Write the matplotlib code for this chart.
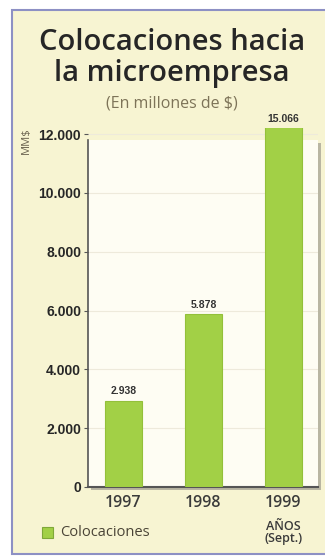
import matplotlib.pyplot as plt
from matplotlib.patches import Rectangle
import matplotlib.ticker as mticker

# datos
anios = ['1997', '1998', '1999']
nota_eje = 'AÑOS\n(Sept.)'
valores = [2938, 5878, 15066]
etiquetas = ['2.938', '5.878', '15.066']
yticks = [0, 2000, 4000, 6000, 8000, 10000, 12000]

W, H = 325, 559
fig = plt.figure(figsize=(W / 100, H / 100), dpi=100)
fig.patch.set_facecolor('white')

def fx(x):
    return x / W

def fy(y):
    return 1 - y / H

# panel crema con borde azulado
fig.patches.append(Rectangle((fx(12), fy(554)), fx(330) - fx(12), fy(10) - fy(554),
                             transform=fig.transFigure, facecolor='#f7f4d2',
                             edgecolor='#8d90c4', linewidth=1.5, zorder=0))
# sombra y fondo del area del grafico
fig.patches.append(Rectangle((fx(91), fy(490)), fx(321) - fx(91), fy(143) - fy(490),
                             transform=fig.transFigure, facecolor='#b9b6a2',
                             edgecolor='none', zorder=1))
fig.patches.append(Rectangle((fx(88), fy(487)), fx(318) - fx(88), fy(140) - fy(487),
                             transform=fig.transFigure, facecolor='#fefdf3',
                             edgecolor='none', zorder=2))

# titulos
fig.text(0.53, fy(42), 'Colocaciones hacia', ha='center', va='center',
         fontsize=21, color='#262626', family='Open Sans', fontweight='semibold')
fig.text(0.53, fy(73), 'la microempresa', ha='center', va='center',
         fontsize=21, color='#262626', family='Open Sans', fontweight='semibold')
fig.text(0.53, fy(103), '(En millones de $)', ha='center', va='center',
         fontsize=11.5, color='#7d7358', family='Open Sans', fontweight='medium')

top = 12000 * (487 - 128) / (487 - 134)
ax = fig.add_axes([fx(88), fy(487), fx(318) - fx(88), fy(128) - fy(487)])
ax.set_facecolor('none')
ax.set_zorder(3)

x = range(len(anios))
ax.bar(x, valores, width=0.46, color='#a2d046', edgecolor='#93c03a', linewidth=0.8, zorder=3)
ax.set_xlim(-0.44, 2.43)
ax.set_ylim(0, top)

for i, (v, t) in enumerate(zip(valores, etiquetas)):
    ax.annotate(t, (i, min(v, top)), xytext=(0, 3), textcoords='offset points',
                ha='center', va='bottom', fontsize=7.5, fontweight='bold',
                color='#333333', family='Liberation Sans',
                annotation_clip=False)

ax.set_yticks(yticks)
ax.yaxis.set_major_formatter(mticker.FuncFormatter(lambda v, p: f'{int(v):,}'.replace(',', '.')))
for lbl in ax.get_yticklabels():
    lbl.set_family('Liberation Sans')
    lbl.set_fontweight('bold')
    lbl.set_fontsize(10)
    lbl.set_color('#262626')
ax.tick_params(axis='y', length=3, width=0.8, color='#555555', pad=2)
ax.yaxis.grid(True, color='#eeeadb', linewidth=0.8)
ax.set_axisbelow(True)

ax.set_xticks(list(x))
ax.set_xticklabels(anios, fontsize=11.5, color='#3a3a3a', family='Open Sans',
                   fontweight='semibold')
ax.tick_params(axis='x', length=0, pad=6)
ax.annotate(nota_eje, (2, 0), xytext=(0, -24), textcoords='offset points',
            ha='center', va='top', fontsize=9, color='#3a3a3a', family='Open Sans',
            fontweight='semibold', linespacing=0.9, annotation_clip=False)

for s in ['top', 'right']:
    ax.spines[s].set_visible(False)
ax.spines['left'].set_bounds(0, 12000 * (487 - 140) / (487 - 134))
ax.spines['left'].set_color('#555555')
ax.spines['bottom'].set_color('#555555')
ax.spines['left'].set_linewidth(1.2)
ax.spines['bottom'].set_linewidth(1.5)

fig.text(fx(26), fy(141), 'MM$', rotation=90, ha='center', va='center',
         fontsize=8, color='#6b6350', family='Open Sans')

# leyenda
fig.patches.append(Rectangle((fx(42), fy(538)), fx(11), fy(527) - fy(538),
                             transform=fig.transFigure, facecolor='#a2d046',
                             edgecolor='#7fa838', linewidth=0.8, zorder=4))
fig.text(fx(60), fy(533), 'Colocaciones', ha='left', va='center',
         fontsize=10.5, color='#4a4436', family='Open Sans', fontweight='medium')

fig.savefig('out.png', dpi=100, facecolor=fig.get_facecolor())
